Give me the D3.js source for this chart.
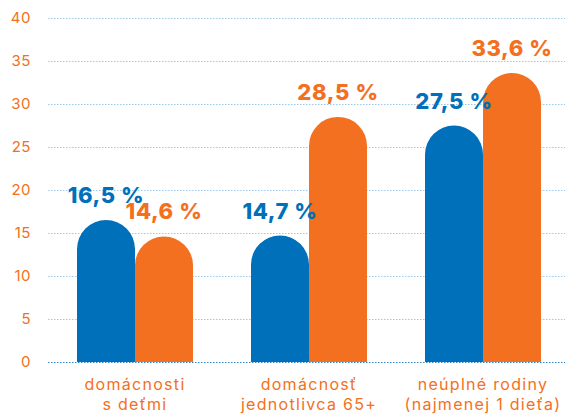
<!DOCTYPE html>
<html>
<head>
<meta charset="utf-8">
<script src="https://cdn.jsdelivr.net/npm/d3@7"></script>
<style>
  body { margin: 0; background: #fff; }
  svg { display: block; font-family: Inter, "Open Sans", sans-serif; }
</style>
</head>
<body>
<svg id="chart" width="565" height="414"></svg>
<script>
// data
const categories = [["domácnosti", "s deťmi"], ["domácnosť", "jednotlivca 65+"], ["neúplné rodiny", "(najmenej 1 dieťa)"]];
const seriesNames = ["blue", "orange"];
const blueValues = [16.5, 14.7, 27.5];
const orangeValues = [14.6, 28.5, 33.6];
const yTicks = [0, 5, 10, 15, 20, 25, 30, 35, 40];

const BLUE = "#0070ba", ORANGE = "#f37021";
const colors = { blue: BLUE, orange: ORANGE };

const svg = d3.select("#chart");

const x0 = d3.scaleBand()
  .domain(categories.map((d, i) => i))
  .range([48, 570])
  .paddingInner(0);

const x1 = d3.scaleBand()
  .domain(seriesNames)
  .range([0, x0.bandwidth()])
  .paddingInner(0)
  .paddingOuter(0.5);

const y = d3.scaleLinear().domain([0, 40]).range([362, 18]);

// grid lines
svg.append("g")
  .selectAll("line")
  .data(yTicks)
  .enter()
  .append("line")
  .attr("x1", 48)
  .attr("x2", 565)
  .attr("y1", (d) => y(d) + 0.5)
  .attr("y2", (d) => y(d) + 0.5)
  .attr("stroke", (d) => d === 0 ? "#2f86c8" : "#9cc8ea")
  .attr("stroke-width", 1)
  .attr("stroke-dasharray", "1.5,1.5");

// y axis labels
const yAxis = d3.axisLeft(y).tickValues(yTicks).tickSize(0).tickPadding(0);
const gy = svg.append("g").attr("transform", "translate(31,0)").call(yAxis);
gy.select(".domain").remove();
gy.selectAll("text")
  .attr("fill", ORANGE)
  .style("font-size", "15px")
  .style("letter-spacing", "0.5px")
  .style("font-family", "Inter, 'Open Sans', sans-serif");

// bars with rounded tops
const bars = [];
categories.forEach((c, i) => {
  bars.push({ cat: i, s: "blue", v: blueValues[i] });
  bars.push({ cat: i, s: "orange", v: orangeValues[i] });
});

function barPath(d) {
  const w = x1.bandwidth();
  const left = x0(d.cat) + x1(d.s);
  const r = w / 2;
  const top = y(d.v);
  const bottom = y(0);
  return "M" + left + "," + bottom +
    "V" + (top + r) +
    "A" + r + "," + r + " 0 0 1 " + (left + w) + "," + (top + r) +
    "V" + bottom + "Z";
}

svg.append("g")
  .selectAll("path")
  .data(bars)
  .enter()
  .append("path")
  .attr("d", barPath)
  .attr("fill", (d) => colors[d.s]);

// value labels
svg.append("g")
  .selectAll("text")
  .data(bars)
  .enter()
  .append("text")
  .attr("x", (d) => x0(d.cat) + x1(d.s) + x1.bandwidth() / 2)
  .attr("y", (d) => y(d.v) - 17)
  .attr("text-anchor", "middle")
  .attr("fill", (d) => colors[d.s])
  .style("font-size", "22px")
  .style("font-weight", "800")
  .style("letter-spacing", "0.6px")
  .text((d) => d3.format(".1f")(d.v).replace(".", ",") + " %");

// category labels
const cat = svg.append("g")
  .selectAll("text")
  .data(categories)
  .enter()
  .append("text")
  .attr("x", (d, i) => x0(i) + x0.bandwidth() / 2)
  .attr("y", 390)
  .attr("text-anchor", "middle")
  .attr("fill", ORANGE)
  .style("font-size", "16px")
  .style("letter-spacing", "1.3px");

cat.selectAll("tspan")
  .data((d) => d)
  .enter()
  .append("tspan")
  .attr("x", function () { return d3.select(this.parentNode).attr("x"); })
  .attr("dy", (d, i) => i === 0 ? 0 : 20)
  .text((d) => d);
</script>
</body>
</html>
